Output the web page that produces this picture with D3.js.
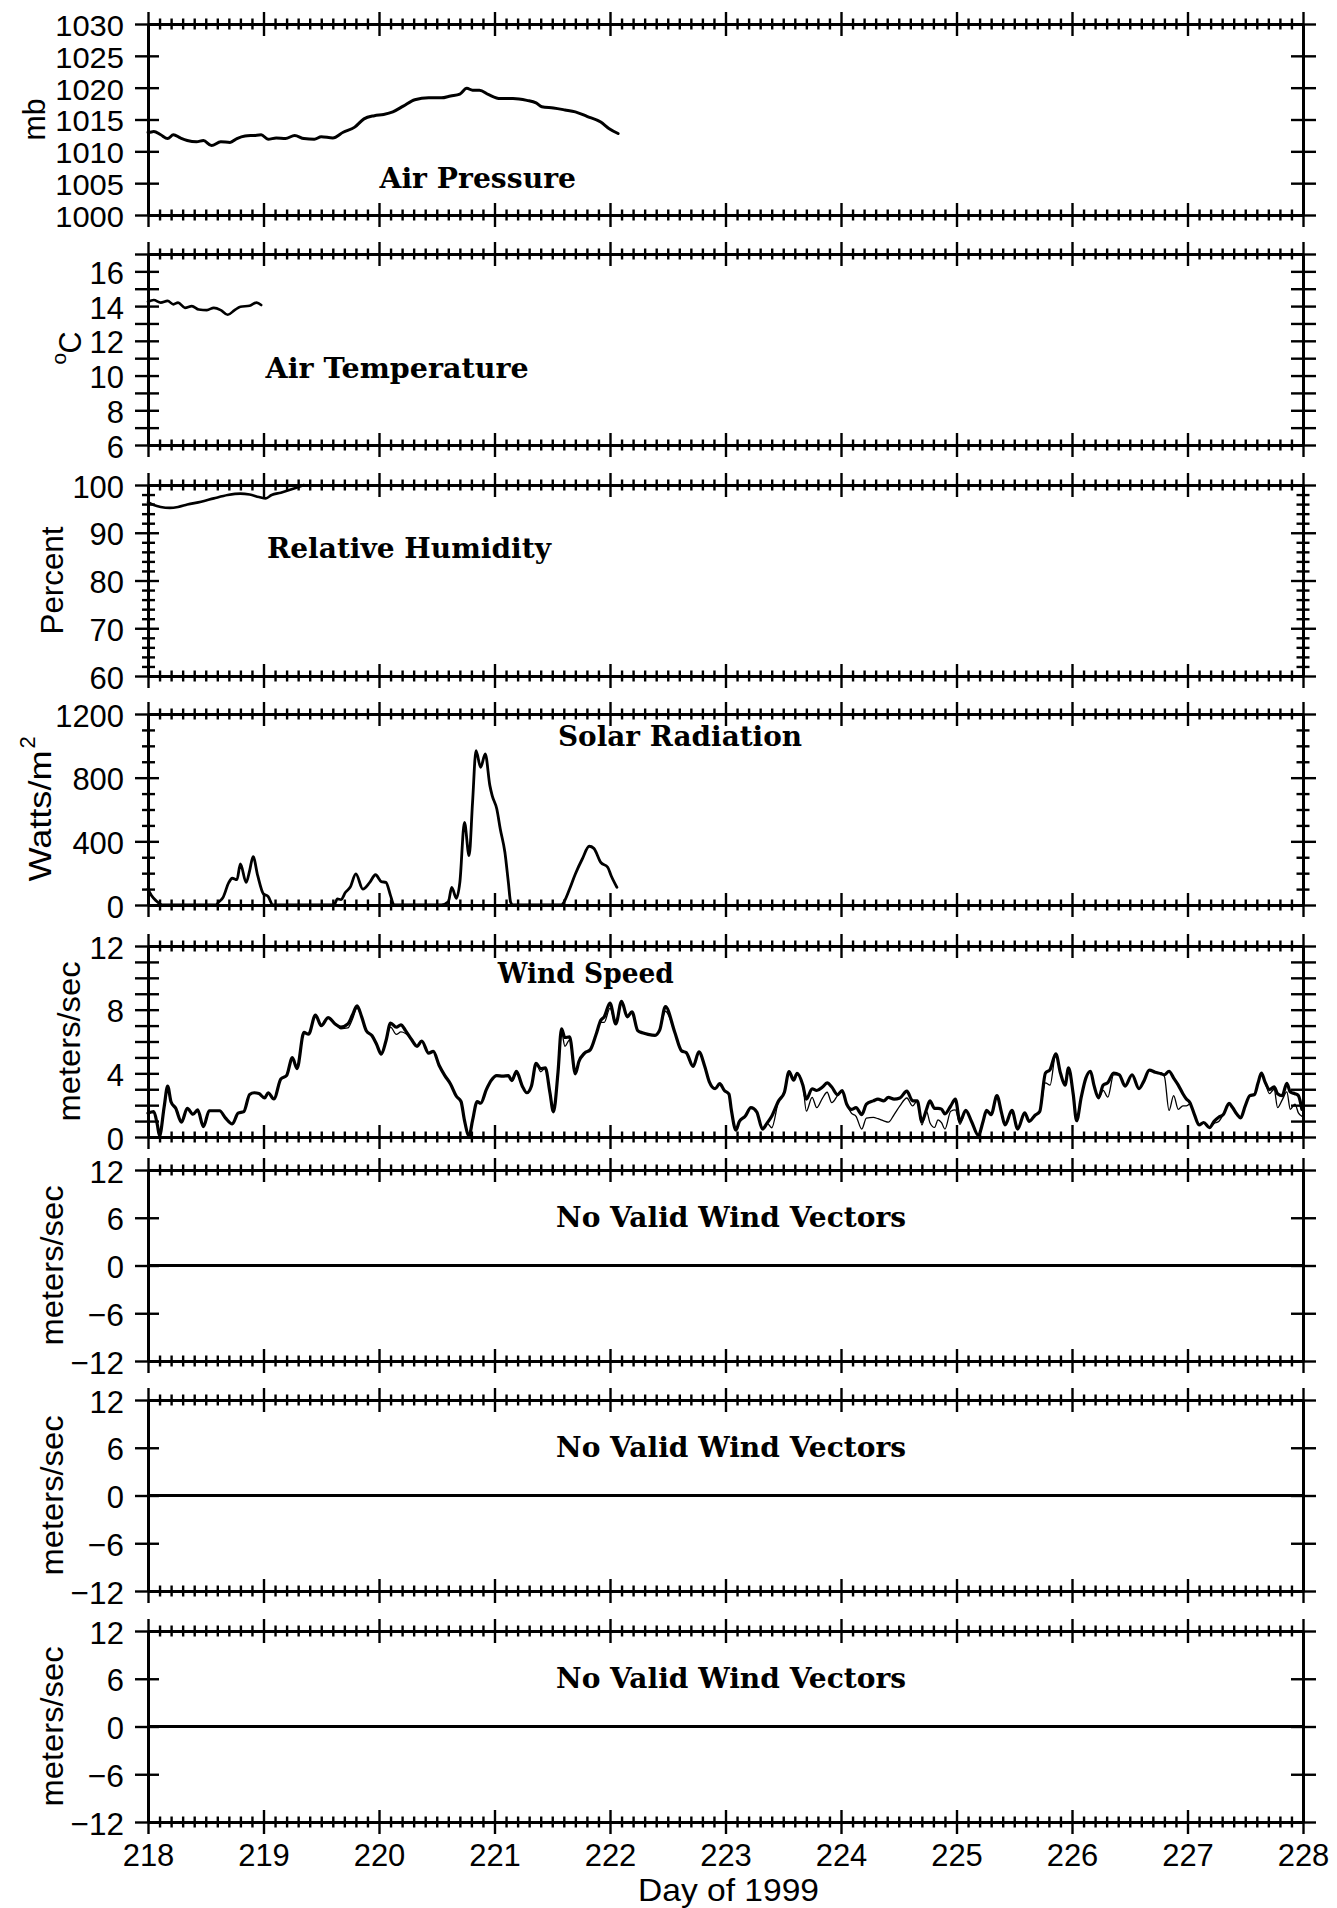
<!DOCTYPE html>
<html>
<head>
<meta charset="utf-8">
<script src="https://cdn.jsdelivr.net/npm/d3@7"></script>
<style>
  html, body { margin: 0; padding: 0; background: #fff; }
  svg { display: block; }
</style>
</head>
<body>
<svg id="chart" width="1337" height="1908"></svg>
<script>
// ---------- Data: day of year 1999 vs. measured value ----------
const dayTicks = [218, 219, 220, 221, 222, 223, 224, 225, 226, 227, 228];

// Air pressure (mb)
const pressureSeries = [
  [218.00,1013.0],[218.01,1013.0],[218.05,1013.1],[218.11,1012.6],[218.17,1012.0],[218.22,1012.6],
  [218.28,1012.1],[218.34,1011.7],[218.42,1011.5],[218.48,1011.7],[218.55,1010.9],[218.63,1011.5],
  [218.71,1011.4],[218.77,1012.0],[218.84,1012.4],[218.92,1012.5],[218.98,1012.6],[219.04,1011.9],
  [219.11,1012.1],[219.19,1012.0],[219.27,1012.5],[219.35,1012.0],[219.44,1011.9],[219.50,1012.3],
  [219.60,1012.1],[219.69,1013.0],[219.79,1013.8],[219.87,1015.1],[219.96,1015.6],[220.04,1015.8],
  [220.12,1016.2],[220.21,1017.1],[220.31,1018.1],[220.43,1018.4],[220.54,1018.4],[220.62,1018.7],
  [220.70,1019.0],[220.76,1019.9],[220.81,1019.6],[220.87,1019.6],[220.95,1018.9],[221.05,1018.3],
  [221.16,1018.3],[221.28,1018.0],[221.36,1017.6],[221.41,1017.0],[221.51,1016.8],[221.61,1016.5],
  [221.70,1016.2],[221.80,1015.5],[221.92,1014.6],[221.99,1013.6],[222.07,1012.8]
];

// Air temperature (deg C)
const temperatureSeries = [
  [218.00,14.25],[218.05,14.35],[218.11,14.2],[218.17,14.3],[218.22,14.1],[218.26,14.2],
  [218.32,13.9],[218.38,14.0],[218.44,13.8],[218.51,13.77],[218.57,13.9],[218.63,13.77],
  [218.69,13.5],[218.75,13.77],[218.80,13.96],[218.88,14.02],[218.94,14.2],[218.98,14.06]
];

// Relative humidity (percent)
const humiditySeries = [
  [218.00,96.4],[218.05,95.8],[218.11,95.4],[218.19,95.2],[218.26,95.4],[218.34,95.9],
  [218.46,96.5],[218.57,97.2],[218.69,97.9],[218.80,98.2],[218.88,98.0],[218.96,97.5],
  [219.02,97.2],[219.07,97.9],[219.15,98.4],[219.27,99.3],[219.35,100]
];

// Solar radiation (W/m^2)
const solarSeries = [
  [218.00,100],[218.03,59],[218.07,27],[218.13,0],[218.59,0],[218.61,17],[218.65,48],[218.70,142],
  [218.73,168],[218.77,159],[218.80,258],[218.85,142],[218.88,216],[218.91,304],[218.95,184],
  [219.00,69],[219.04,54],[219.08,0],[219.61,0],[219.64,38],[219.67,34],[219.71,80],[219.75,111],
  [219.80,195],[219.86,100],[219.92,142],[219.97,190],[220.02,147],[220.06,142],[220.10,59],
  [220.13,0],[220.54,0],[220.60,20],[220.63,111],[220.67,42],[220.70,142],[220.74,519],[220.78,310],
  [220.81,645],[220.84,970],[220.88,865],[220.92,949],[220.96,750],[220.98,687],[221.02,603],
  [221.05,477],[221.09,331],[221.12,142],[221.14,17],[221.16,0],[221.58,0],[221.59,6],[221.65,100],
  [221.70,195],[221.76,289],[221.82,369],[221.86,356],[221.92,268],[221.98,237],[222.01,184],[222.06,111]
];

// Wind speed (m/s): [day, primary sensor, secondary sensor]
const windSpeedSeries = [
  [218.00,1.5,1.5],[218.05,1.6,1.6],[218.08,0.8,0.8],[218.10,0.07,0.07],[218.14,1.9,1.9],
  [218.17,3.2,3.2],[218.20,2.2,2.2],[218.24,1.8,1.8],[218.29,0.93,0.93],[218.34,1.8,1.8],
  [218.39,1.43,1.43],[218.43,1.7,1.7],[218.48,0.65,0.65],[218.53,1.65,1.65],[218.57,1.65,1.65],
  [218.62,1.65,1.65],[218.67,1.2,1.2],[218.73,0.82,0.82],[218.78,1.5,1.5],[218.83,1.6,1.6],
  [218.88,2.67,2.67],[218.92,2.78,2.78],[218.96,2.73,2.73],[219.01,2.45,2.45],[219.04,2.78,2.78],
  [219.09,2.39,2.39],[219.15,3.64,3.64],[219.20,3.86,3.86],[219.25,4.99,4.99],[219.29,4.3,4.3],
  [219.35,6.57,6.57],[219.39,6.46,6.46],[219.45,7.66,7.66],[219.50,7.0,7.0],[219.56,7.5,7.5],
  [219.62,7.1,7.1],[219.67,6.9,6.8],[219.73,7.1,6.85],[219.77,7.66,7.4],[219.81,8.24,8.1],
  [219.85,7.55,7.55],[219.89,6.68,6.68],[219.94,6.36,6.36],[219.98,5.81,5.81],[220.02,5.2,5.2],
  [220.06,6.03,6.03],[220.10,7.16,6.9],[220.15,6.9,6.45],[220.19,7.05,6.6],[220.23,6.68,6.5],
  [220.28,6.14,6.14],[220.33,5.7,5.7],[220.37,6.03,6.03],[220.43,5.27,5.27],[220.47,5.38,5.38],
  [220.52,4.51,4.51],[220.57,3.86,3.86],[220.62,3.32,3.32],[220.67,2.56,2.56],[220.71,2.23,2.23],
  [220.74,1.04,1.04],[220.78,0.07,0.07],[220.81,1.04,1.04],[220.85,2.23,2.23],[220.88,2.12,2.12],
  [220.93,2.99,2.99],[220.97,3.54,3.54],[221.02,3.86,3.86],[221.07,3.82,3.82],[221.12,3.86,3.86],
  [221.15,3.54,3.54],[221.19,4.12,4.0],[221.24,3.21,3.21],[221.28,2.78,2.78],[221.32,3.21,3.21],
  [221.36,4.62,4.62],[221.40,4.3,4.1],[221.44,4.34,4.34],[221.48,2.78,2.78],[221.51,1.58,1.58],
  [221.55,4.08,4.08],[221.58,6.79,6.6],[221.61,6.25,5.7],[221.65,6.29,6.1],[221.70,3.97,3.97],
  [221.73,4.73,4.73],[221.78,5.27,5.27],[221.83,5.49,5.49],[221.88,6.46,6.46],[221.92,7.33,7.2],
  [221.95,7.55,7.2],[222.00,8.42,8.1],[222.05,7.1,7.1],[222.10,8.52,8.4],[222.15,7.55,7.55],
  [222.19,7.87,7.87],[222.24,6.68,6.68],[222.28,6.55,6.55],[222.33,6.45,6.45],[222.39,6.39,6.39],
  [222.43,6.71,6.71],[222.48,8.2,7.9],[222.56,6.6,6.6],[222.62,5.41,5.41],[222.66,5.3,5.3],
  [222.72,4.44,4.44],[222.77,5.35,5.35],[222.82,4.44,4.44],[222.86,3.46,3.46],[222.91,3.03,3.03],
  [222.95,3.35,3.35],[222.99,2.92,2.92],[223.03,2.7,2.7],[223.05,1.73,1.73],[223.09,0.43,0.43],
  [223.12,0.97,0.97],[223.17,1.3,1.3],[223.22,1.84,1.84],[223.27,1.58,1.58],[223.32,0.5,0.5],
  [223.36,0.87,0.87],[223.40,1.3,0.58],[223.46,2.27,2.27],[223.51,2.81,2.81],[223.55,4.11,4.11],
  [223.59,3.57,3.57],[223.62,4.0,4.0],[223.67,3.25,3.25],[223.70,2.38,1.62],[223.75,3.03,2.49],
  [223.79,2.92,1.84],[223.84,3.14,2.45],[223.88,3.4,2.81],[223.92,3.14,2.16],[223.97,2.66,2.6],
  [224.01,2.92,2.92],[224.05,2.06,2.06],[224.09,1.73,1.5],[224.13,1.84,1.3],[224.18,1.41,0.5],
  [224.22,2.06,1.19],[224.28,2.27,1.23],[224.32,2.38,1.15],[224.37,2.27,1.02],[224.41,2.49,0.93],
  [224.46,2.38,1.41],[224.51,2.45,1.95],[224.57,2.88,2.45],[224.62,2.27,1.95],[224.66,2.27,2.27],
  [224.70,0.97,0.76],[224.74,1.73,1.62],[224.77,2.27,0.9],[224.81,1.8,0.6],[224.84,1.8,1.08],
  [224.87,1.75,0.9],[224.90,1.45,0.5],[224.95,1.95,1.62],[224.99,2.38,1.7],[225.03,0.98,0.8],
  [225.08,1.67,1.67],[225.13,0.98,0.98],[225.19,0.1,0.1],[225.23,0.98,0.98],[225.26,1.67,1.67],
  [225.30,1.41,1.41],[225.35,2.6,2.6],[225.39,1.52,1.52],[225.42,0.76,0.76],[225.48,1.67,1.67],
  [225.53,0.5,0.5],[225.59,1.52,1.52],[225.63,0.98,0.98],[225.68,1.37,1.37],[225.72,1.59,1.59],
  [225.77,4.02,3.4],[225.81,4.24,3.26],[225.86,5.22,5.22],[225.90,4.02,4.02],[225.94,3.26,3.26],
  [225.97,4.35,4.35],[226.01,2.72,2.72],[226.04,1.02,1.02],[226.08,2.5,2.5],[226.12,3.7,3.7],
  [226.16,4.13,4.13],[226.19,3.26,3.26],[226.23,2.46,2.46],[226.27,3.26,2.93],[226.31,3.41,2.5],
  [226.36,4.02,3.9],[226.41,3.91,3.91],[226.46,3.2,3.2],[226.52,3.91,3.91],[226.58,3.04,3.04],
  [226.62,3.48,3.48],[226.67,4.2,4.2],[226.72,4.07,4.07],[226.77,3.98,3.98],[226.80,3.91,3.8],
  [226.84,4.13,1.67],[226.88,3.7,2.6],[226.92,3.26,1.74],[226.96,2.72,1.96],[226.99,2.39,1.96],
  [227.02,2.17,2.07],[227.06,1.41,1.41],[227.10,0.76,0.76],[227.14,0.91,0.91],[227.19,0.59,0.59],
  [227.23,0.98,0.85],[227.27,1.24,0.98],[227.31,1.41,1.41],[227.36,2.11,2.11],[227.39,1.85,1.85],
  [227.43,1.41,1.41],[227.46,1.2,1.2],[227.50,1.96,1.96],[227.54,2.6,2.6],[227.58,2.67,2.67],
  [227.61,3.37,3.37],[227.64,4.02,4.02],[227.67,3.48,3.48],[227.71,2.98,2.72],[227.75,3.15,3.0],
  [227.78,2.72,1.85],[227.82,2.6,2.33],[227.86,3.37,2.83],[227.89,2.83,1.74],[227.93,2.72,2.07],
  [227.96,2.6,1.52],[227.99,1.74,1.3]
];

// Labelled tick values for each panel
const pressureTicks = [1000, 1005, 1010, 1015, 1020, 1025, 1030];
const temperatureTicks = [6, 8, 10, 12, 14, 16];
const humidityTicks = [60, 70, 80, 90, 100];
const solarTicks = [0, 400, 800, 1200];
const windSpeedTicks = [0, 4, 8, 12];
const vectorTicks = [-12, -6, 0, 6, 12];

// ---------- Layout ----------
const plotLeft = 148, plotRight = 1303;
const panelTops = [24, 254, 485, 714, 946, 1170, 1400, 1631];
const panelHeight = 191;
const tickFont = "'Liberation Sans', Arial, sans-serif";
const titleFont = "'DejaVu Serif', serif";
const labelSize = 32;          // tall, slightly condensed plotter digits
const digitWidth = 17.2, minusWidth = 19;
const labelWidth = s => [...s].reduce((w, c) => w + (c === "\u2212" ? minusWidth : digitWidth), 0);

const panels = [
  { domain: [1000, 1030], labels: pressureTicks, minorCount: 0, minorLong: false, labelSize: 30,
    series: [{ data: pressureSeries, col: 1, width: 3 }],
    title: "Air Pressure", titleX: 379.5, titleDy: 164, titleLen: 196.5,
    unit: { text: "mb", x: 44.6, len: 42 } },
  { domain: [6, 17], labels: temperatureTicks, minorCount: 11, minorLong: true,
    series: [{ data: temperatureSeries, col: 1, width: 2.6 }],
    title: "Air Temperature", titleX: 265.6, titleDy: 124, titleLen: 263,
    unit: { kind: "degC", x: 81 } },
  { domain: [60, 100], labels: humidityTicks, minorCount: 20, minorLong: false,
    series: [{ data: humiditySeries, col: 1, width: 2.6 }],
    title: "Relative Humidity", titleX: 267, titleDy: 73, titleLen: 284,
    unit: { text: "Percent", x: 62.5, len: 108 } },
  { domain: [0, 1200], labels: solarTicks, minorCount: 12, minorLong: false,
    series: [{ data: solarSeries, col: 1, width: 2.8 }],
    title: "Solar Radiation", titleX: 558, titleDy: 32, titleLen: 244,
    unit: { kind: "watts", x: 51 } },
  { domain: [0, 12], labels: windSpeedTicks, minorCount: 12, minorLong: true,
    series: [{ data: windSpeedSeries, col: 2, width: 1.3 }, { data: windSpeedSeries, col: 1, width: 3.2 }],
    title: "Wind Speed", titleX: 497.8, titleDy: 37, titleLen: 176,
    unit: { text: "meters/sec", x: 79.5, len: 160 } },
  { domain: [-12, 12], labels: vectorTicks, minorCount: 0, minorLong: false, zeroLine: true,
    series: [], title: "No Valid Wind Vectors", titleX: 556, titleDy: 57, titleLen: 350,
    unit: { text: "meters/sec", x: 63, len: 160 } },
  { domain: [-12, 12], labels: vectorTicks, minorCount: 0, minorLong: false, zeroLine: true,
    series: [], title: "No Valid Wind Vectors", titleX: 556, titleDy: 57, titleLen: 350,
    unit: { text: "meters/sec", x: 63, len: 160 } },
  { domain: [-12, 12], labels: vectorTicks, minorCount: 0, minorLong: false, zeroLine: true,
    series: [], title: "No Valid Wind Vectors", titleX: 556, titleDy: 57, titleLen: 350,
    unit: { text: "meters/sec", x: 63, len: 160 } }
];

// ---------- Drawing ----------
const svg = d3.select("#chart");
svg.append("rect").attr("width", 1337).attr("height", 1908).attr("fill", "#fff");

const x = d3.scaleLinear().domain([218, 228]).range([plotLeft, plotRight]);
const dayMinor = x.ticks(100);
const isWholeDay = d => Math.abs(d - Math.round(d)) < 1e-6;

function styleAxis(g, size) {
  g.attr("font-family", tickFont).attr("font-size", size || labelSize);
  g.select(".domain").attr("stroke", "#000").attr("stroke-width", 3);
  g.selectAll(".tick line").attr("stroke", "#000").attr("stroke-width", 2.4);
  g.selectAll(".tick text").attr("fill", "#000")
    .each(function () {
      const t = d3.select(this), s = t.text();
      if (s) t.attr("textLength", labelWidth(s)).attr("lengthAdjust", "spacingAndGlyphs");
    });
}

panels.forEach((p, i) => {
  const top = panelTops[i];
  const bottom = top + panelHeight;
  const y = d3.scaleLinear().domain(p.domain).range([bottom, top]);
  const g = svg.append("g");
  const lastPanel = i === panels.length - 1;

  // Top and bottom day axes with crossing ticks
  [top, bottom].forEach((yy, k) => {
    const withLabels = lastPanel && k === 1;
    const axis = d3.axisBottom(x).tickValues(dayMinor).tickSizeInner(0).tickSizeOuter(0)
      .tickFormat(d => (withLabels && isWholeDay(d)) ? d3.format("d")(d) : "");
    const ag = g.append("g").attr("transform", `translate(0,${yy})`).call(axis);
    styleAxis(ag);
    ag.selectAll(".tick line")
      .attr("y1", d => isWholeDay(d) ? -12 : -5.5)
      .attr("y2", d => isWholeDay(d) ? 12 : 5.5);
    ag.selectAll(".tick text").attr("y", 44).attr("dy", null).attr("text-anchor", "middle");
  });

  // Left and right value axes
  const allTicks = p.minorCount ? y.ticks(p.minorCount) : p.labels;
  const isLabel = d => p.labels.some(v => Math.abs(v - d) < 1e-6);
  const isMajor = d => p.minorLong || isLabel(d);

  const left = d3.axisLeft(y).tickValues(allTicks).tickSizeInner(0).tickSizeOuter(0)
    .tickFormat(d => isLabel(d) ? d3.format("d")(d) : "");
  const lg = g.append("g").attr("transform", `translate(${plotLeft},0)`).call(left);
  styleAxis(lg, p.labelSize);
  lg.selectAll(".tick line")
    .attr("x1", d => isMajor(d) ? -13 : -6)
    .attr("x2", d => isMajor(d) ? 11 : 7);
  lg.selectAll(".tick text").attr("x", -24).attr("dy", "0.38em").attr("text-anchor", "end");

  const right = d3.axisRight(y).tickValues(allTicks).tickSizeInner(0).tickSizeOuter(0).tickFormat("");
  const rg = g.append("g").attr("transform", `translate(${plotRight},0)`).call(right);
  styleAxis(rg);
  rg.selectAll(".tick line")
    .attr("x1", d => isMajor(d) ? -12 : -6.5)
    .attr("x2", d => isMajor(d) ? 13 : 6.5);

  // Zero reference for the vector panels
  if (p.zeroLine) {
    g.append("line")
      .attr("x1", x(218)).attr("x2", x(228))
      .attr("y1", y(0)).attr("y2", y(0))
      .attr("stroke", "#000").attr("stroke-width", 3);
  }

  // Measured series, drawn as smooth traces through the readings
  p.series.forEach(s => {
    const line = d3.line().curve(d3.curveMonotoneX).x(d => x(d[0])).y(d => y(d[s.col]));
    g.append("path")
      .datum(s.data)
      .attr("d", line)
      .attr("fill", "none")
      .attr("stroke", "#000")
      .attr("stroke-width", s.width)
      .attr("stroke-linejoin", "round")
      .attr("stroke-linecap", "round");
  });

  // Panel title
  g.append("text")
    .attr("x", p.titleX).attr("y", top + p.titleDy)
    .attr("font-family", titleFont).attr("font-weight", "bold").attr("font-size", 27)
    .attr("textLength", p.titleLen).attr("lengthAdjust", "spacingAndGlyphs")
    .text(p.title);

  // Units, rotated along the left axis
  const cy = (top + bottom) / 2;
  const ug = g.append("g").attr("transform", `translate(${p.unit.x},${cy}) rotate(-90)`)
    .attr("font-family", tickFont).attr("font-size", 32);
  if (p.unit.kind === "degC") {
    ug.append("text").attr("x", -15).attr("y", -15).attr("font-size", 21).text("o");
    ug.append("text").attr("x", -4).attr("y", 0).attr("textLength", 22)
      .attr("lengthAdjust", "spacingAndGlyphs").text("C");
  } else if (p.unit.kind === "watts") {
    ug.append("text").attr("x", -72).attr("y", 0).attr("textLength", 131)
      .attr("lengthAdjust", "spacingAndGlyphs").text("Watts/m");
    ug.append("text").attr("x", 61).attr("y", -16).attr("font-size", 22).text("2");
  } else {
    ug.append("text").attr("x", 0).attr("y", 0).attr("text-anchor", "middle")
      .attr("textLength", p.unit.len).attr("lengthAdjust", "spacingAndGlyphs")
      .text(p.unit.text);
  }
});

// Shared x-axis title
svg.append("text")
  .attr("x", (plotLeft + plotRight) / 2 + 3).attr("y", 1901)
  .attr("text-anchor", "middle")
  .attr("font-family", tickFont).attr("font-size", labelSize)
  .attr("textLength", 181).attr("lengthAdjust", "spacingAndGlyphs")
  .text("Day of 1999");
</script>
</body>
</html>
